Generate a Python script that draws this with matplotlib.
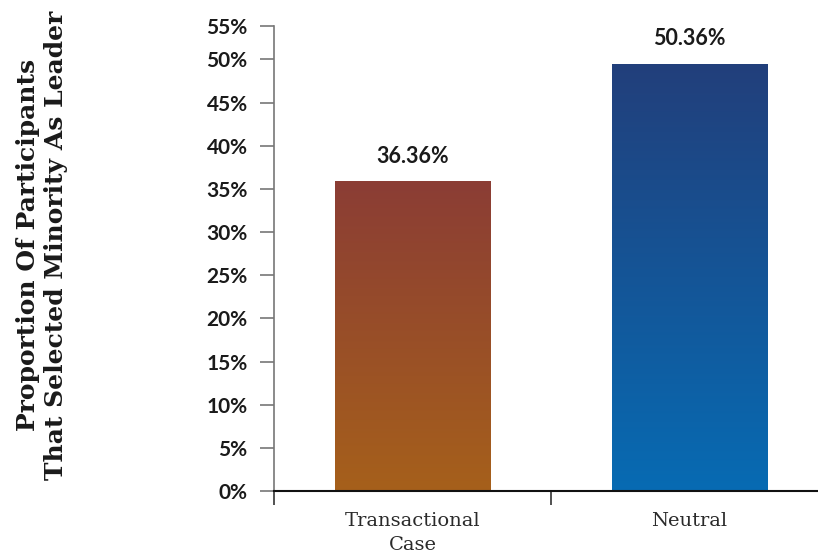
import matplotlib
matplotlib.use("Agg")
import matplotlib.pyplot as plt
import numpy as np
from matplotlib.colors import LinearSegmentedColormap

categories = ["Transactional\nCase", "Neutral"]
bar_values = [35.9, 49.5]
value_labels = ["36.36%", "50.36%"]
y_ticks = [0, 5, 10, 15, 20, 25, 30, 35, 40, 45, 50]
y_tick_labels = ["0%", "5%", "10%", "15%", "20%", "25%", "30%", "35%", "40%", "45%", "50%"]
y_top = 53.9
y_top_label = "55%"
top_colors = ["#8b3d35", "#223f7b"]
bottom_colors = ["#a6601b", "#076bb3"]

fig = plt.figure(figsize=(8.18, 5.59), dpi=100)
ax = fig.add_axes([274/818, (559-491)/559, 554/818, (491-25.7)/559])

x = np.arange(len(categories))
width = 0.56
bars = ax.bar(x, bar_values, width=width, color="none", edgecolor="none")
ax.set_xlim(-0.5, len(categories) - 0.5)
ax.set_ylim(0, y_top)

grad = np.linspace(0, 1, 256).reshape(-1, 1)
for b, tc, bc in zip(bars, top_colors, bottom_colors):
    cmap = LinearSegmentedColormap.from_list("g", [bc, tc])
    x0, y0 = b.get_x(), b.get_y()
    w, h = b.get_width(), b.get_height()
    im = ax.imshow(grad, cmap=cmap, origin="lower", aspect="auto",
                   extent=[x0, x0 + w, y0, y0 + h], zorder=2)
    im.set_clip_path(b)

for b, lab in zip(bars, value_labels):
    ax.annotate(lab, (b.get_x() + b.get_width() / 2, b.get_height()),
                xytext=(0, 10.5), textcoords="offset points",
                ha="center", va="bottom", fontsize=15.5, fontweight="bold",
                family="Lato", color="#1a1a1a")

# y axis
ax.set_yticks(y_ticks + [y_top])
ax.set_yticklabels(y_tick_labels + [y_top_label], fontsize=15,
                   fontweight="bold", family="Lato", color="#1a1a1a")
ax.tick_params(axis="y", length=10, width=1.2, color="#777777", pad=9)

# x axis: ticks at band boundaries, labels at centres
ax.set_xticks(np.arange(len(categories) + 1) - 0.5)
ax.set_xticklabels([])
ax.tick_params(axis="x", which="major", length=10, width=1.2, color="#333333",
               direction="out")
ax.set_xticks(x, minor=True)
ax.set_xticklabels(categories, minor=True, fontsize=14, family="DejaVu Serif",
                   color="#2a2a2a", linespacing=1.45)
ax.tick_params(axis="x", which="minor", length=0, pad=15)

for s in ["top", "right"]:
    ax.spines[s].set_visible(False)
ax.spines["left"].set_color("#777777")
ax.spines["left"].set_linewidth(1.2)
ax.spines["bottom"].set_color("#111111")
ax.spines["bottom"].set_linewidth(1.5)
ax.spines["bottom"].set_zorder(5)

fig.text(0.051, 1 - 245/559,
         "Proportion Of Participants\nThat Selected Minority As Leader",
         rotation=90, ha="center", va="center", fontsize=18,
         fontweight="bold", family="DejaVu Serif", color="#1a1a1a",
         linespacing=1.2, multialignment="center")

fig.savefig("out.png", dpi=100)
